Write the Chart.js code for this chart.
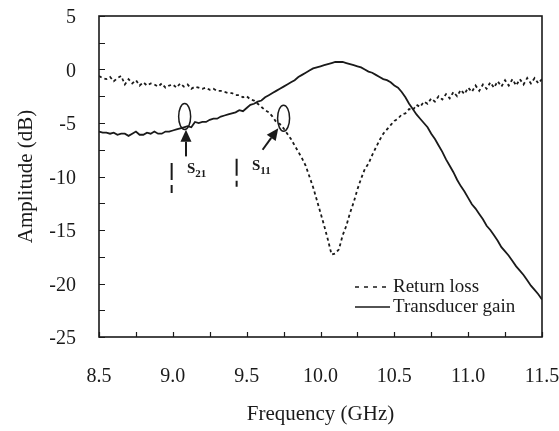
<!DOCTYPE html>
<html><head><meta charset="utf-8">
<script src="https://cdn.jsdelivr.net/npm/chart.js@4/dist/chart.umd.min.js"></script>
<style>html,body{margin:0;padding:0;background:#fff;}</style>
</head><body>
<canvas id="c" width="559" height="431"></canvas>
<script>
const frequency = [
8.500,8.525,8.550,8.575,8.600,8.625,8.650,8.675,8.700,8.725,8.750,8.775,8.800,8.825,8.850,8.875,8.900,8.925,8.950,8.975,
9.000,9.025,9.050,9.075,9.100,9.125,9.150,9.175,9.200,9.225,9.250,9.275,9.300,9.325,9.350,9.375,9.400,9.425,9.450,9.475,
9.500,9.525,9.550,9.575,9.600,9.625,9.650,9.675,9.700,9.725,9.750,9.775,9.800,9.825,9.850,9.875,9.900,9.925,9.950,9.975,
10.000,10.025,10.050,10.075,10.100,10.125,10.150,10.175,10.200,10.225,10.250,10.275,10.300,10.325,10.350,10.375,10.400,10.425,10.450,10.475,
10.500,10.525,10.550,10.575,10.600,10.625,10.650,10.675,10.700,10.725,10.750,10.775,10.800,10.825,10.850,10.875,10.900,10.925,10.950,10.975,
11.000,11.025,11.050,11.075,11.100,11.125,11.150,11.175,11.200,11.225,11.250,11.275,11.300,11.325,11.350,11.375,11.400,11.425,11.450,11.475,
11.500];

const returnLoss = [
-0.6,-0.8,-0.9,-0.7,-1.1,-0.8,-0.6,-1.4,-0.9,-1.3,-1.0,-1.5,-1.2,-1.5,-1.3,-1.4,-1.6,-1.3,-1.7,-1.5,
-1.4,-1.7,-1.3,-1.6,-1.4,-1.8,-1.6,-1.7,-1.8,-1.7,-1.9,-1.8,-2.0,-2.0,-2.1,-2.2,-2.2,-2.4,-2.4,-2.6,
-2.5,-2.8,-2.9,-3.2,-3.5,-3.8,-4.0,-4.4,-4.9,-5.1,-5.5,-6.0,-6.5,-7.1,-7.7,-8.3,-9.0,-10.0,-11.0,-12.2,
-13.4,-14.6,-15.9,-17.3,-17.2,-16.8,-15.5,-14.6,-13.4,-12.4,-11.2,-10.2,-9.3,-8.8,-8.0,-7.3,-6.6,-6.0,-5.6,-5.2,
-4.8,-4.6,-4.2,-4.1,-3.7,-3.8,-3.3,-3.5,-3.0,-3.2,-2.7,-3.0,-2.5,-2.8,-2.3,-2.7,-2.1,-2.5,-1.9,-2.3,
-1.7,-2.1,-1.5,-2.0,-1.4,-1.8,-1.2,-1.7,-1.1,-1.6,-1.0,-1.5,-0.9,-1.5,-0.9,-1.4,-0.8,-1.3,-0.8,-1.3,
-0.9];

const transducerGain = [
-5.8,-5.9,-5.9,-6.0,-5.9,-6.1,-6.0,-6.0,-6.2,-6.0,-5.8,-6.1,-6.1,-5.9,-6.0,-5.8,-6.0,-6.0,-5.8,-5.8,
-5.7,-5.6,-5.5,-5.4,-5.3,-5.4,-4.9,-5.0,-4.9,-4.9,-4.7,-4.6,-4.6,-4.4,-4.3,-4.2,-4.1,-4.0,-3.8,-3.9,
-3.6,-3.3,-3.2,-3.0,-2.9,-2.6,-2.4,-2.2,-2.0,-1.8,-1.6,-1.4,-1.2,-1.0,-0.7,-0.5,-0.3,-0.1,0.1,0.2,
0.3,0.4,0.5,0.6,0.7,0.7,0.7,0.6,0.5,0.4,0.3,0.2,0.0,-0.2,-0.3,-0.5,-0.7,-0.9,-1.0,-1.2,
-1.5,-1.7,-2.1,-2.6,-3.2,-3.7,-4.2,-4.6,-5.0,-5.4,-6.0,-6.5,-7.1,-7.7,-8.4,-9.0,-9.6,-10.3,-10.9,-11.4,
-12.0,-12.6,-13.0,-13.5,-14.0,-14.6,-15.0,-15.5,-16.0,-16.6,-17.0,-17.4,-17.9,-18.4,-18.8,-19.2,-19.7,-20.2,-20.6,-21.0,
-21.5];

const seriesNames = ['Return loss', 'Transducer gain'];
const xTickValues = [8.5, 9.0, 9.5, 10.0, 10.5, 11.0, 11.5];
const yTickValues = [5, 0, -5, -10, -15, -20, -25];
const xTitle = 'Frequency (GHz)';
const yTitle = 'Amplitude (dB)';

// annotations (data coordinates)
const ellipseCenters = [[9.08, -4.4], [9.75, -4.55]];
const arrows = [[[9.089, -8.12], [9.089, -5.63]], [[9.608, -7.5], [9.714, -5.48]]];
const dashMarks = [[8.992, -8.74, -11.54], [9.432, -8.34, -10.95]];
const sLabels = [['S', '21', 9.096, -9.65], ['S', '11', 9.536, -9.37]];

const SERIF = "'Liberation Serif', 'Times New Roman', serif";
const INK = '#1a1a1a';

const overlay = {
  id: 'overlay',
  afterDraw(chart) {
    const ctx = chart.ctx, a = chart.chartArea;
    const xs = chart.scales.x, ys = chart.scales.y;
    const X = v => xs.getPixelForValue(v), Y = v => ys.getPixelForValue(v);
    ctx.save();
    ctx.strokeStyle = INK; ctx.fillStyle = INK;
    // frame
    ctx.lineWidth = 1.6;
    ctx.strokeRect(a.left, a.top, a.right - a.left, a.bottom - a.top);
    // ticks
    ctx.lineWidth = 1.2;
    ctx.beginPath();
    for (let v = -25; v <= 5.001; v += 2.5) {
      const y = Math.round(Y(v)) + 0.5;
      ctx.moveTo(a.left, y); ctx.lineTo(a.left + 6, y);
    }
    for (let v = 8.5; v <= 11.501; v += 0.25) {
      const x = Math.round(X(v)) + 0.5;
      ctx.moveTo(x, a.bottom); ctx.lineTo(x, a.bottom - 5);
    }
    ctx.stroke();
    // ellipses
    ctx.lineWidth = 1.5;
    ellipseCenters.forEach(([fx, fy]) => {
      ctx.beginPath();
      ctx.ellipse(X(fx), Y(fy), 6, 13, 0, 0, Math.PI * 2);
      ctx.stroke();
    });
    // arrows
    arrows.forEach(([t, h]) => {
      const x0 = X(t[0]), y0 = Y(t[1]), x1 = X(h[0]), y1 = Y(h[1]);
      const ang = Math.atan2(y1 - y0, x1 - x0);
      const L = 12, W = 5.5;
      const bx = x1 - L * Math.cos(ang), by = y1 - L * Math.sin(ang);
      ctx.lineWidth = 2;
      ctx.beginPath(); ctx.moveTo(x0, y0); ctx.lineTo(bx, by); ctx.stroke();
      ctx.beginPath();
      ctx.moveTo(x1, y1);
      ctx.lineTo(bx + W * Math.sin(ang), by - W * Math.cos(ang));
      ctx.lineTo(bx - W * Math.sin(ang), by + W * Math.cos(ang));
      ctx.closePath(); ctx.fill();
    });
    // short dashed vertical marks
    ctx.lineWidth = 2;
    ctx.setLineDash([17, 5]);
    dashMarks.forEach(([fx, y0, y1]) => {
      ctx.beginPath(); ctx.moveTo(X(fx), Y(y0)); ctx.lineTo(X(fx), Y(y1)); ctx.stroke();
    });
    ctx.setLineDash([]);
    // S labels
    ctx.textBaseline = 'alphabetic'; ctx.textAlign = 'left';
    sLabels.forEach(([m, sub, fx, fy]) => {
      const x = X(fx), y = Y(fy);
      ctx.font = "bold 15px " + SERIF;
      ctx.fillText(m, x, y);
      const w = ctx.measureText(m).width;
      ctx.font = "bold 11px " + SERIF;
      ctx.fillText(sub, x + w, y + 4);
    });
    // legend
    const lx0 = a.right - 187, lx1 = a.right - 152, tx = a.right - 149;
    const rows = [[a.bottom - 50, [4, 5]], [a.bottom - 30, []]];
    ctx.font = "19px " + SERIF;
    ctx.textBaseline = 'middle';
    rows.forEach(([y, dash], i) => {
      ctx.lineWidth = 1.5;
      ctx.setLineDash(dash);
      ctx.beginPath(); ctx.moveTo(lx0, y); ctx.lineTo(lx1, y); ctx.stroke();
      ctx.setLineDash([]);
      ctx.fillText(seriesNames[i], tx, y);
    });
    ctx.restore();
  }
};

const mk = arr => frequency.map((f, i) => ({ x: f, y: arr[i] }));

new Chart(document.getElementById('c'), {
  type: 'line',
  data: {
    datasets: [
      { label: seriesNames[0], data: mk(returnLoss), borderColor: INK, borderWidth: 1.8,
        borderDash: [3, 3], pointRadius: 0, tension: 0, fill: false },
      { label: seriesNames[1], data: mk(transducerGain), borderColor: INK, borderWidth: 1.8,
        pointRadius: 0, tension: 0, fill: false }
    ]
  },
  options: {
    responsive: false, animation: false, devicePixelRatio: 1,
    layout: { padding: { top: 16, right: 17, left: 0, bottom: 0 } },
    plugins: { legend: { display: false }, tooltip: { enabled: false } },
    scales: {
      x: {
        type: 'linear', min: 8.5, max: 11.5,
        afterFit(s) { s.height = 94; s.paddingLeft = 0; s.paddingRight = 0; },
        afterBuildTicks(s) { s.ticks = xTickValues.map(v => ({ value: v })); },
        grid: { display: false, drawTicks: false }, border: { display: false },
        ticks: { font: { family: SERIF, size: 20 }, color: INK, padding: 28,
          maxRotation: 0, autoSkip: false, callback: v => Number(v).toFixed(1) },
        title: { display: true, text: xTitle, font: { family: SERIF, size: 21 }, color: INK,
          padding: { top: 0, bottom: 4 } }
      },
      y: {
        type: 'linear', min: -25, max: 5,
        afterFit(s) { s.width = 99; s.paddingTop = 0; s.paddingBottom = 0; },
        afterBuildTicks(s) { s.ticks = yTickValues.map(v => ({ value: v })); },
        grid: { display: false, drawTicks: false }, border: { display: false },
        ticks: { font: { family: SERIF, size: 20 }, color: INK, padding: 23, labelOffset: 2,
          callback: v => String(v) },
        title: { display: true, text: yTitle, font: { family: SERIF, size: 21 }, color: INK,
          padding: { top: 14, bottom: 0 } }
      }
    }
  },
  plugins: [overlay]
});
</script>
</body></html>
